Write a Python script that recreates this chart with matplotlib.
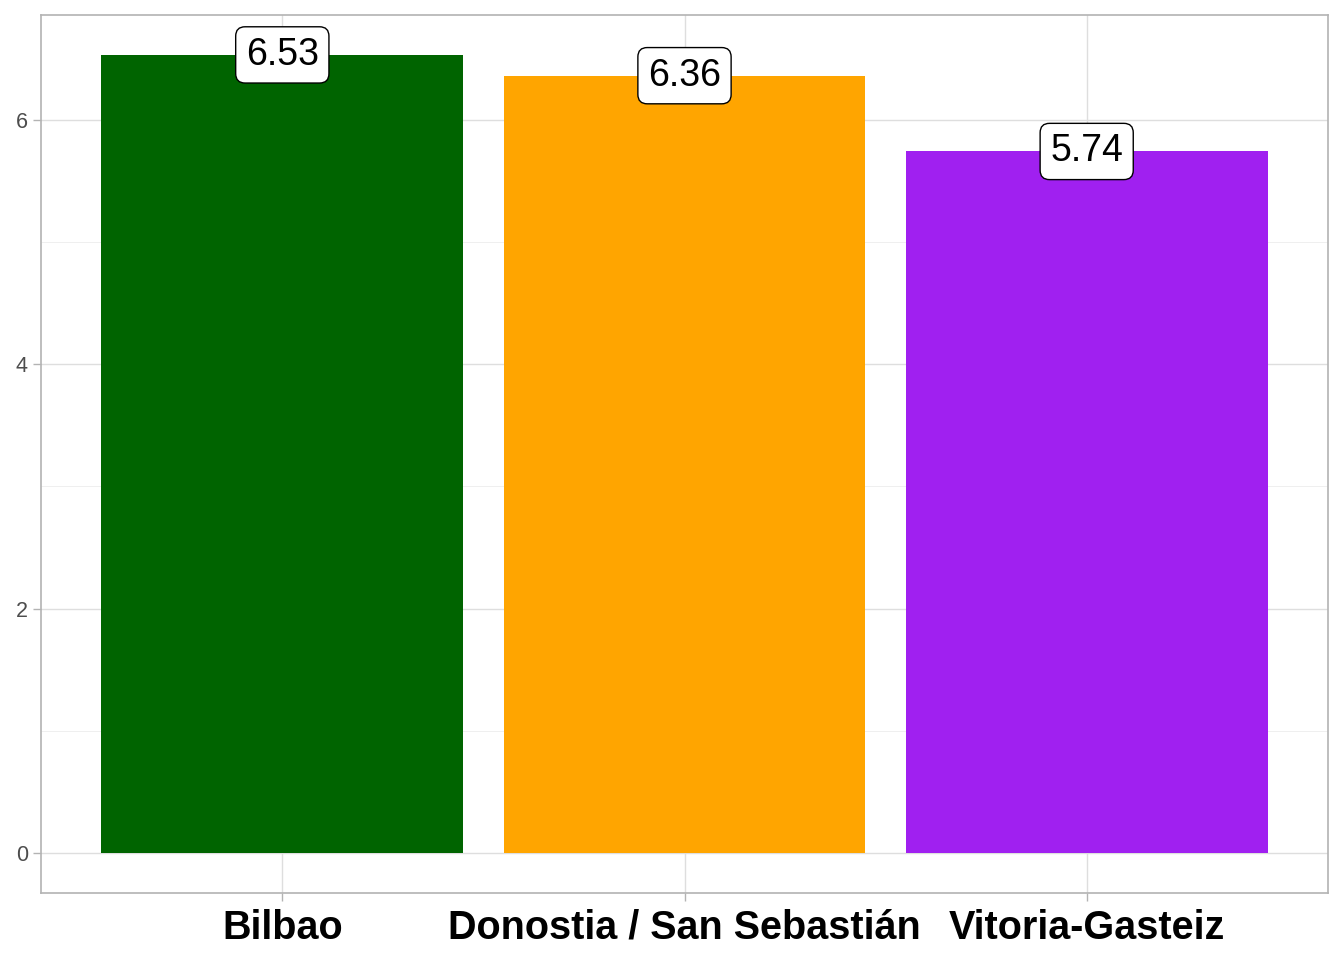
import matplotlib
matplotlib.use("Agg")
import matplotlib.pyplot as plt
from matplotlib.ticker import MultipleLocator

plt.rcParams['font.family'] = ['Liberation Sans', 'DejaVu Sans']

cities = ["Bilbao", "Donostia / San Sebastián", "Vitoria-Gasteiz"]
values = [6.53, 6.36, 5.74]
colors = ["#006400", "#FFA500", "#A020F0"]

fig = plt.figure(figsize=(13.44, 9.6), dpi=100)
ax = fig.add_axes([41/1344, 67/960, (1328-41)/1344, (893-15)/960])

x = list(range(1, len(cities) + 1))
ax.bar(x, values, width=0.9, color=colors, zorder=2)

for xi, v in zip(x, values):
    ax.text(xi, v, f"{v:.2f}", ha="center", va="center", fontsize=27, color="black", zorder=4,
            bbox=dict(boxstyle="round,pad=0.27,rounding_size=0.25", fc="white", ec="black", lw=1.0))

ymax = max(values)
ax.set_ylim(-0.05 * ymax, ymax * 1.05)
ax.set_xlim(0.4, len(cities) + 0.6)
ax.set_xticks(x)
ax.set_xticklabels(cities, fontsize=28.5, fontweight="bold", color="black")
ax.yaxis.set_major_locator(MultipleLocator(2))
ax.yaxis.set_minor_locator(MultipleLocator(1))
ax.tick_params(axis="y", which="major", labelsize=15.5, labelcolor="#4D4D4D", color="#B3B3B3", length=5.5, width=1, pad=4)
ax.tick_params(axis="x", which="major", color="#B3B3B3", length=5.5, width=1, pad=6)
ax.tick_params(axis="y", which="minor", length=0)
ax.grid(which="major", color="#DEDEDE", lw=1.0, zorder=0)
ax.grid(which="minor", axis="y", color="#EFEFEF", lw=0.7, zorder=0)
for s in ax.spines.values():
    s.set_color("#B3B3B3")
    s.set_linewidth(1.2)

fig.savefig("out.png", dpi=100)
